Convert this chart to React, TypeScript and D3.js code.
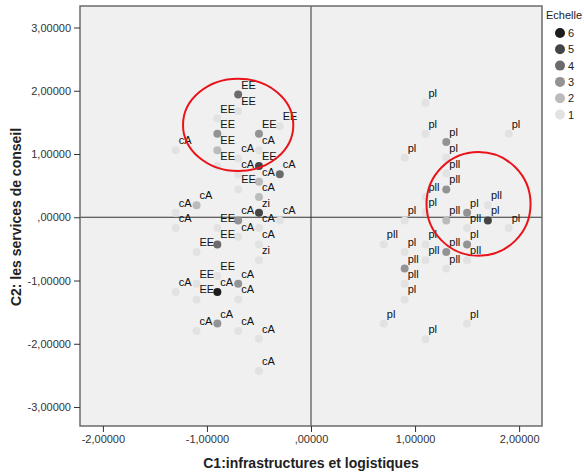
import { useEffect, useRef } from "react";
import * as d3 from "d3";

// left cluster (EE / cA / zi) and right cluster (pl / pll)
const xs = [
  -0.7, -0.7, -0.9, -0.3, -0.9, -0.5, -1.3, -0.9, -0.5, -0.7, -0.9, -0.5, -0.7, -0.3,
  -0.5, -0.7, -0.5, -1.1, -1.3, -0.5, -0.7, -0.3, -1.3, -0.9, -0.5, -0.7, -0.9, -0.5,
  -1.1, -0.5, -0.9, -1.1, -0.7, -1.3, -0.9, -1.1, -0.7, -0.9, -1.1, -0.7, -0.5, -0.5,
  1.1, 1.1, 1.9, 1.3, 0.9, 1.3, 1.3, 1.3, 1.1, 1.7, 1.1, 1.5, 0.9, 1.3, 1.7, 1.5, 1.9,
  0.7, 1.1, 1.5, 0.9, 1.3, 1.1, 1.5, 0.9, 1.3, 0.9, 0.9, 0.7, 1.5, 1.1,
];
const ys = [
  1.94, 1.68, 1.56, 1.44, 1.32, 1.32, 1.06, 1.06, 1.06, 0.93, 0.81, 0.81, 0.68, 0.68,
  0.56, 0.44, 0.32, 0.19, 0.07, 0.07, -0.05, -0.05, -0.17, -0.17, -0.17, -0.31, -0.43, -0.43,
  -0.55, -0.68, -0.93, -1.05, -1.05, -1.18, -1.18, -1.3, -1.3, -1.68, -1.8, -1.8, -1.92, -2.43,
  1.81, 1.32, 1.32, 1.19, 0.94, 0.94, 0.69, 0.44, 0.32, 0.19, 0.08, 0.07, -0.05, -0.05, -0.05, -0.17, -0.17,
  -0.43, -0.43, -0.43, -0.55, -0.55, -0.68, -0.68, -0.81, -0.81, -1.05, -1.3, -1.68, -1.68, -1.93,
];
const labels = [
  "EE", "EE", "EE", "EE", "EE", "EE", "cA", "EE", "cA", "cA", "EE", "EE", "cA", "cA",
  "cA", "EE", "cA", "cA", "cA", "zi", "cA", "cA", "cA", "EE", "cA", "cA", "EE", "cA",
  "EE", "zi", "EE", "EE", "cA", "cA", "cA", "EE", "cA", "cA", "cA", "cA", "cA", "cA",
  "pl", "pl", "pl", "pl", "pl", "pl", "pll", "pll", "pll", "pll", "pl", "pl", "pl", "pll", "pl", "pll", "pl",
  "pll", "pl", "pl", "pl", "pll", "pll", "pll", "pll", "pll", "pll", "pl", "pl", "pl", "pl",
];
const levels = [
  4, 1, 1, 1, 3, 3, 1, 2, 1, 1, 1, 5, 1, 4,
  2, 1, 2, 2, 1, 5, 3, 1, 1, 1, 1, 1, 4, 1,
  1, 1, 1, 1, 3, 1, 6, 1, 1, 3, 1, 1, 1, 1,
  1, 1, 1, 3, 1, 1, 1, 3, 1, 1, 1, 3, 1, 2, 5, 1, 1,
  1, 1, 3, 1, 3, 1, 1, 3, 1, 1, 1, 1, 1, 1,
];

const legendLevels = [6, 5, 4, 3, 2, 1];
const levelColors = ["#e2e2e2", "#bbbbbb", "#939393", "#6b6b6b", "#454545", "#1c1c1c"];
const tickValues = [-3, -2, -1, 0, 1, 2, 3];
const xTickValues = [-2, -1, 0, 1, 2];

// red annotation ellipses: [cx, cy, rx, ry] in data units
const ellipses = [
  [-0.7, 1.46, 0.53, 0.73],
  [1.61, 0.21, 0.5, 0.82],
];

const fmt = (v) => {
  const s = Math.abs(v).toFixed(5).replace(".", ",");
  const t = s.startsWith("0,") ? s.slice(1) : s;
  return (v < 0 ? "-" : "") + t;
};

const App = () => {
  const ref = useRef(null);

  useEffect(() => {
    const svg = d3.select(ref.current);
    svg.selectAll("*").remove();
    const font = "'Liberation Sans', Arial, sans-serif";

    const x = d3.scaleLinear().domain([-2.22, 2.22]).range([80, 542]);
    const y = d3.scaleLinear().domain([-3.3, 3.34]).range([426, 6]);
    const color = d3.scaleOrdinal().domain([1, 2, 3, 4, 5, 6]).range(levelColors);

    svg.append("rect").attr("width", 584).attr("height", 474).attr("fill", "#fff");

    svg
      .append("rect")
      .attr("x", 80)
      .attr("y", 6)
      .attr("width", 462)
      .attr("height", 420)
      .attr("fill", "#f0f0f0");

    // zero lines
    svg
      .append("line")
      .attr("x1", x(0))
      .attr("x2", x(0))
      .attr("y1", 6)
      .attr("y2", 426)
      .attr("stroke", "#333")
      .attr("stroke-width", 1);
    svg
      .append("line")
      .attr("x1", 80)
      .attr("x2", 542)
      .attr("y1", y(0))
      .attr("y2", y(0))
      .attr("stroke", "#333")
      .attr("stroke-width", 1);

    const pts = xs.map((v, i) => ({ x: v, y: ys[i], label: labels[i], level: levels[i] }));

    svg
      .append("g")
      .selectAll("circle")
      .data(pts)
      .join("circle")
      .attr("cx", (d) => x(d.x))
      .attr("cy", (d) => y(d.y))
      .attr("r", 4)
      // @ts-ignore
      .attr("fill", (d) => color(d.level));

    svg
      .append("g")
      .selectAll("text")
      .data(pts)
      .join("text")
      .attr("x", (d) => x(d.x) + 3)
      .attr("y", (d) => y(d.y) - 6)
      .attr("font-family", font)
      .attr("font-size", 11)
      .attr("fill", "#111")
      .text((d) => d.label);

    svg
      .append("g")
      .selectAll("ellipse")
      .data(ellipses)
      .join("ellipse")
      .attr("cx", (d) => x(d[0]))
      .attr("cy", (d) => y(d[1]))
      .attr("rx", (d) => x(d[2]) - x(0))
      .attr("ry", (d) => y(0) - y(d[3]))
      .attr("fill", "none")
      .attr("stroke", "#e8141a")
      .attr("stroke-width", 2);

    // frame
    svg
      .append("rect")
      .attr("x", 80)
      .attr("y", 6)
      .attr("width", 462)
      .attr("height", 420)
      .attr("fill", "none")
      .attr("stroke", "#6b6b6b")
      .attr("stroke-width", 1.5);

    const yAxis = svg
      .append("g")
      .attr("transform", "translate(80,0)")
      .call(d3.axisLeft(y).tickValues(tickValues).tickSize(6).tickSizeOuter(0).tickFormat(fmt));
    yAxis.select(".domain").remove();
    yAxis.selectAll("line").attr("stroke", "#333");
    yAxis
      .selectAll("text")
      .attr("font-family", font)
      .attr("font-size", 11)
      .attr("fill", "#333");

    const xAxis = svg
      .append("g")
      .attr("transform", "translate(0,426)")
      .call(d3.axisBottom(x).tickValues(xTickValues).tickSize(6).tickSizeOuter(0).tickFormat(fmt));
    xAxis.select(".domain").remove();
    xAxis.selectAll("line").attr("stroke", "#333");
    xAxis
      .selectAll("text")
      .attr("font-family", font)
      .attr("font-size", 11)
      .attr("fill", "#333");

    svg
      .append("text")
      .attr("x", 311)
      .attr("y", 468)
      .attr("text-anchor", "middle")
      .attr("font-family", font)
      .attr("font-size", 14)
      .attr("font-weight", "bold")
      .attr("fill", "#222")
      .text("C1:infrastructures et logistiques");

    svg
      .append("text")
      .attr("transform", "translate(21,217) rotate(-90)")
      .attr("text-anchor", "middle")
      .attr("font-family", font)
      .attr("font-size", 14)
      .attr("font-weight", "bold")
      .attr("fill", "#222")
      .text("C2: les services de conseil");

    // legend
    const legend = svg.append("g").attr("transform", "translate(546,0)");
    legend
      .append("text")
      .attr("x", 0)
      .attr("y", 19)
      .attr("font-family", font)
      .attr("font-size", 11)
      .attr("fill", "#222")
      .text("Echelle");
    legendLevels.forEach((lv, i) => {
      legend
        .append("circle")
        .attr("cx", 14)
        .attr("cy", 33 + i * 16.3)
        .attr("r", 5)
        // @ts-ignore
        .attr("fill", color(lv));
      legend
        .append("text")
        .attr("x", 22)
        .attr("y", 37 + i * 16.3)
        .attr("font-family", font)
        .attr("font-size", 11)
        .attr("fill", "#222")
        .text(lv);
    });
  }, []);

  return (
    <div style={{ position: "absolute", left: 0, top: 0 }}>
      <svg ref={ref} width={584} height={474}></svg>
    </div>
  );
};

export default App;
